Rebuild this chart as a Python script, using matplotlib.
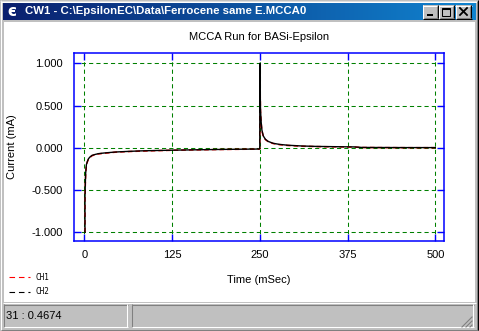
import numpy as np
import matplotlib
matplotlib.use("Agg")
import matplotlib.pyplot as plt
from matplotlib.patches import Rectangle
from matplotlib.colors import LinearSegmentedColormap

plt.rcParams['font.family'] = ['Liberation Sans', 'DejaVu Sans']

# ---------------- data ----------------
window_title = "CW1 - C:\\EpsilonEC\\Data\\Ferrocene same E.MCCA0"
chart_title = "MCCA Run for BASi-Epsilon"
x_label = "Time (mSec)"
y_label = "Current (mA)"
status_text = "31 : 0.4674"
series_names = ["CH1", "CH2"]

x_ticks = [0, 125, 250, 375, 500]
y_ticks = [-1.0, -0.5, 0.0, 0.5, 1.0]

time_ms = [1, 1, 1.5, 2, 3, 4.5, 6, 8, 11, 15, 20, 27, 35, 45, 60, 80, 100, 130,
           160, 200, 249,
           250, 250, 251, 252, 253, 255, 258, 262, 269, 278, 290, 310, 330, 355,
           385, 395, 420, 460, 500]
ch2_ma = [-1.0, -0.59, -0.42, -0.3, -0.2, -0.16, -0.13, -0.11, -0.09, -0.08,
          -0.07, -0.063, -0.057, -0.05, -0.044, -0.037, -0.033, -0.028, -0.024,
          -0.019, -0.015,
          -0.012, 1.0, 0.45, 0.3, 0.21, 0.14, 0.1, 0.075, 0.053, 0.04, 0.03,
          0.021, 0.016, 0.013, 0.01, 0.004, 0.003, 0.002, 0.002]
ch1_ma = [-1.0, -0.6, -0.44, -0.31, -0.21, -0.165, -0.135, -0.115, -0.095, -0.083,
          -0.073, -0.066, -0.06, -0.052, -0.046, -0.04, -0.035, -0.029, -0.025,
          -0.02, -0.016,
          -0.013, 0.98, 0.43, 0.29, 0.2, 0.135, 0.097, 0.071, 0.05, 0.037, 0.027,
          0.018, 0.014, 0.011, 0.008, 0.003, 0.002, 0.001, 0.001]

W, H = 479, 331
fig = plt.figure(figsize=(W / 100, H / 100), dpi=100)
fig.patch.set_facecolor('#c0c0c0')

# background / window chrome in pixel coordinates
bg = fig.add_axes([0, 0, 1, 1])
bg.set_xlim(0, W)
bg.set_ylim(H, 0)
bg.axis('off')

def rect(x, y, w, h, fc, ec='none', lw=0, z=1):
    bg.add_patch(Rectangle((x, y), w, h, facecolor=fc, edgecolor=ec, linewidth=lw, zorder=z))

def hline(x0, x1, y, c, lw=0.75, z=3):
    bg.plot([x0, x1], [y, y], color=c, lw=lw, zorder=z, solid_capstyle='butt')

def vline(x, y0, y1, c, lw=0.75, z=3):
    bg.plot([x, x], [y0, y1], color=c, lw=lw, zorder=z, solid_capstyle='butt')

# outer frame
hline(0, W, 0.5, '#dfdfdf')
vline(0.5, 0, H, '#dfdfdf')
hline(1, W - 1, 1.5, '#ffffff')
vline(1.5, 1, H - 1, '#ffffff')
vline(W - 0.5, 0, H, '#000000')
hline(0, W, H - 0.5, '#000000')
vline(W - 1.5, 1, H - 1, '#808080')
hline(1, W - 1, H - 1.5, '#808080')

# client area
rect(4, 22, 471, 280, '#ffffff')

# title bar gradient
cmap = LinearSegmentedColormap.from_list('tb', ['#0a1f6e', '#1084d0'])
grad = np.linspace(0, 1, 256).reshape(1, -1)
bg.imshow(grad, cmap=cmap, extent=(3, 476, 20, 2.5), aspect='auto', zorder=2)
bg.set_xlim(0, W)
bg.set_ylim(H, 0)
bg.text(7, 11.5, "\u0454", color='white', fontsize=11, fontweight='bold',
        ha='left', va='center', zorder=5, family=['DejaVu Sans'])
bg.text(25, 11.5, window_title, color='white', fontsize=8.2, fontweight='bold',
        ha='left', va='center', zorder=5)

# title bar buttons
def button(x, y, w, h):
    rect(x, y, w, h, '#c0c0c0', z=4)
    hline(x, x + w, y + 0.5, '#ffffff', z=5)
    vline(x + 0.5, y, y + h, '#ffffff', z=5)
    hline(x, x + w, y + h - 0.5, '#000000', z=5)
    vline(x + w - 0.5, y, y + h, '#000000', z=5)
    hline(x + 1, x + w - 1, y + h - 1.5, '#808080', z=5)
    vline(x + w - 1.5, y + 1, y + h - 1, '#808080', z=5)

button(423, 5, 16, 14)
button(439, 5, 16, 14)
button(456, 5, 16, 14)
# minimize glyph
rect(427, 14, 6, 2, '#000000', z=6)
# maximize glyph
bg.add_patch(Rectangle((442.5, 7.5), 8, 8, facecolor='none', edgecolor='#000000', lw=0.75, zorder=6))
hline(442.5, 450.5, 8.5, '#000000', lw=0.75, z=6)
# close glyph
bg.plot([460, 467], [8, 15], color='black', lw=1.3, zorder=6)
bg.plot([460, 467], [15, 8], color='black', lw=1.3, zorder=6)

# status bar
hline(3, 476, 302.5, '#ffffff')
def panel(x, y, w, h):
    hline(x, x + w, y + 0.5, '#808080', z=4)
    vline(x + 0.5, y, y + h, '#808080', z=4)
    hline(x, x + w, y + h - 0.5, '#ffffff', z=4)
    vline(x + w - 0.5, y, y + h, '#ffffff', z=4)

panel(4, 304, 124, 23)
panel(132, 304, 342, 23)
bg.text(6, 316, status_text, fontsize=8, ha='left', va='center', zorder=5)
for k in range(3):
    bg.plot([462 + 4 * k, 472], [327, 317 + 4 * k], color='#808080', lw=0.8, zorder=5)

# texts outside plot
bg.text(259.3, 37, chart_title, fontsize=8, ha='center', va='center', zorder=5)
bg.text(12, 147, y_label, fontsize=8, rotation=90, ha='center', va='center', zorder=5)
bg.text(259, 280, x_label, fontsize=8, ha='center', va='center', zorder=5)

# legend
leg_colors = ['#ff0000', '#000000']
for name, c, yy in zip(series_names, leg_colors, [277, 292]):
    bg.plot([9, 30], [yy, yy], color=c, lw=0.8, linestyle=(0, (5, 3.5)), zorder=5)
    bg.text(36, yy, name, fontsize=5.5, ha='left', va='center', zorder=5,
            family=['DejaVu Sans Mono'])

# ---------------- plot ----------------
ax = fig.add_axes([74.3 / W, 1 - 241.3 / H, 370 / W, 188 / H])
ax.set_facecolor('white')
ax.plot(time_ms, ch1_ma, color='#ff0000', lw=1.1, linestyle=(0, (3, 2)), zorder=3)
ax.plot(time_ms, ch2_ma, color='#000000', lw=1.0, zorder=4)

ax.set_xlim(-14.2, 512.8)
ax.set_ylim(-1.107, 1.118)
ax.set_xticks(x_ticks)
ax.set_xticklabels([str(v) for v in x_ticks])
ax.set_yticks(y_ticks)
ax.set_yticklabels(["%.3f" % v for v in y_ticks])
ax.grid(True, color='#008000', lw=0.75, linestyle=(0, (4, 3)))
for s in ax.spines.values():
    s.set_color('#0000ff')
    s.set_linewidth(1.1)
ax.tick_params(axis='both', direction='in', length=5, width=1, color='#0000ff',
               top=True, right=True, labelsize=8, labelcolor='black')
ax.tick_params(axis='y', pad=8)
ax.tick_params(axis='x', pad=6)

fig.savefig('out.png', dpi=100, facecolor=fig.get_facecolor())
